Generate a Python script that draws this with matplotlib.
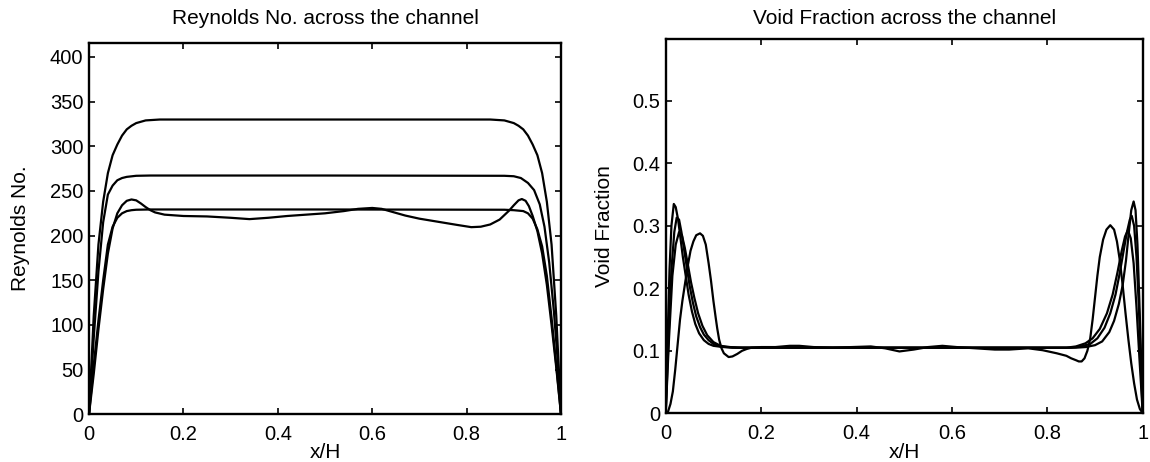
import matplotlib
matplotlib.use("Agg")
import matplotlib.pyplot as plt

plt.rcParams['font.family'] = ['Liberation Sans', 'DejaVu Sans']

# ---------------- Reynolds number data ----------------
re_x_a = [0, 0.005, 0.01, 0.02, 0.03, 0.04, 0.05, 0.06, 0.07, 0.08, 0.09, 0.10, 0.12, 0.15,
          0.30, 0.50, 0.70, 0.85, 0.88, 0.90, 0.91, 0.92, 0.93, 0.94, 0.95, 0.96, 0.97,
          0.98, 0.99, 0.995, 1.0]
re_y_a = [0, 55, 110, 190, 238, 270, 290, 302, 312, 319, 323, 326, 329, 330,
          330, 330, 330, 330, 329, 326, 323, 319, 312, 302, 290, 270, 238,
          190, 110, 55, 0]

re_x_b = [0, 0.01, 0.02, 0.03, 0.04, 0.05, 0.055, 0.06, 0.07, 0.08, 0.10, 0.13,
          0.50, 0.88, 0.90, 0.915, 0.93, 0.943, 0.955, 0.965, 0.975, 0.985, 0.993, 1.0]
re_y_b = [0, 85, 160, 215, 246, 256, 259, 262, 264.5, 265.8, 267, 267.3,
          267.3, 267, 266.5, 264.5, 259, 251, 235, 210, 170, 115, 60, 0]

re_x_c = [0, 0.01, 0.02, 0.03, 0.04, 0.05, 0.06, 0.07, 0.08, 0.09, 0.10, 0.13,
          0.50, 0.88, 0.90, 0.92, 0.93, 0.94, 0.95, 0.96, 0.97, 0.98, 0.99, 1.0]
re_y_c = [0, 55, 105, 150, 190, 210, 220, 225, 227.5, 228.5, 229, 229.3,
          229.3, 229, 228.5, 227.5, 225, 219, 207, 188, 155, 108, 55, 0]

re_x_d = [0, 0.01, 0.02, 0.03, 0.04, 0.05, 0.06, 0.07, 0.08, 0.09, 0.10, 0.11,
          0.12, 0.13, 0.14, 0.16, 0.20, 0.25, 0.30, 0.34, 0.38, 0.42, 0.46,
          0.50, 0.54, 0.57, 0.60, 0.62, 0.64, 0.67, 0.70, 0.74, 0.78, 0.81,
          0.83, 0.85, 0.87, 0.89, 0.90, 0.91, 0.917, 0.925, 0.932, 0.94, 0.95,
          0.96, 0.97, 0.98, 0.99, 1.0]
re_y_d = [0, 45, 95, 140, 180, 208, 225, 234, 239, 240.5, 239.5, 236,
          232, 228.5, 226, 223.5, 222, 221.5, 220, 218.5, 220, 222, 223.5,
          225, 227.5, 230, 231, 230, 227, 222.5, 219, 215.5, 212, 209.5,
          210, 212.5, 218, 228, 234, 239.5, 241, 239, 233, 222, 205,
          180, 145, 100, 52, 0]

# ---------------- Void fraction data ----------------
vf_x_1 = [0, 0.004, 0.008, 0.012, 0.017, 0.021, 0.026, 0.031, 0.036, 0.042, 0.048,
          0.055, 0.062, 0.07, 0.08, 0.09, 0.10, 0.12, 0.15, 0.50, 0.86, 0.88, 0.90,
          0.915, 0.93, 0.94, 0.95, 0.958, 0.965, 0.971, 0.976, 0.981, 0.985, 0.989,
          0.993, 0.997, 1.0]
vf_y_1 = [0, 0.12, 0.23, 0.30, 0.335, 0.33, 0.31, 0.28, 0.25, 0.22, 0.19,
          0.163, 0.143, 0.128, 0.117, 0.111, 0.108, 0.106, 0.105, 0.105, 0.105, 0.106, 0.109,
          0.115, 0.13, 0.148, 0.175, 0.205, 0.245, 0.29, 0.325, 0.339, 0.325, 0.27,
          0.18, 0.08, 0]

vf_x_2 = [0, 0.006, 0.012, 0.018, 0.023, 0.028, 0.033, 0.038, 0.044, 0.05, 0.057,
          0.064, 0.072, 0.08, 0.09, 0.10, 0.115, 0.14, 0.50, 0.85, 0.87, 0.89, 0.905,
          0.92, 0.932, 0.943, 0.952, 0.96, 0.967, 0.973, 0.977, 0.982, 0.987, 0.992,
          0.996, 1.0]
vf_y_2 = [0, 0.12, 0.23, 0.29, 0.313, 0.31, 0.29, 0.265, 0.235, 0.205, 0.177,
          0.155, 0.138, 0.126, 0.117, 0.111, 0.107, 0.105, 0.105, 0.105, 0.107, 0.111, 0.12,
          0.137, 0.16, 0.19, 0.225, 0.26, 0.29, 0.31, 0.316, 0.30, 0.25, 0.17,
          0.08, 0]

vf_x_3 = [0, 0.007, 0.014, 0.021, 0.028, 0.034, 0.04, 0.046, 0.053, 0.06, 0.068,
          0.077, 0.087, 0.10, 0.115, 0.135, 0.16, 0.50, 0.84, 0.86, 0.88, 0.895,
          0.91, 0.925, 0.937, 0.947, 0.956, 0.963, 0.969, 0.975, 0.981, 0.987,
          0.993, 1.0]
vf_y_3 = [0, 0.12, 0.22, 0.27, 0.29, 0.285, 0.265, 0.24, 0.21, 0.185, 0.16,
          0.14, 0.125, 0.114, 0.108, 0.106, 0.105, 0.105, 0.105, 0.107, 0.112, 0.12,
          0.135, 0.16, 0.19, 0.225, 0.26, 0.283, 0.293, 0.28, 0.24, 0.17,
          0.09, 0]

vf_x_4 = [0, 0.005, 0.01, 0.015, 0.02, 0.025, 0.03, 0.035, 0.04, 0.046, 0.052,
          0.058, 0.064, 0.072, 0.078, 0.084, 0.09, 0.095, 0.10, 0.105, 0.108,
          0.112, 0.117, 0.122, 0.132, 0.14, 0.15, 0.16, 0.17, 0.18, 0.20, 0.23,
          0.26, 0.28, 0.31, 0.35, 0.39, 0.43, 0.46, 0.49, 0.52, 0.55, 0.58,
          0.61, 0.65, 0.69, 0.72, 0.76, 0.79, 0.82, 0.84, 0.85, 0.86, 0.866,
          0.872, 0.878, 0.884, 0.89, 0.895, 0.90, 0.905, 0.91, 0.917, 0.924,
          0.932, 0.94, 0.946, 0.952, 0.958, 0.964, 0.97, 0.976, 0.982, 0.988,
          0.994, 1.0]
vf_y_4 = [0, 0.003, 0.015, 0.035, 0.07, 0.11, 0.15, 0.18, 0.205, 0.235, 0.26,
          0.275, 0.285, 0.288, 0.284, 0.27, 0.24, 0.212, 0.18, 0.152, 0.136,
          0.118, 0.104, 0.096, 0.09, 0.091, 0.095, 0.10, 0.103, 0.105, 0.106, 0.106,
          0.108, 0.108, 0.106, 0.105, 0.106, 0.107, 0.104, 0.099, 0.102, 0.106, 0.108,
          0.106, 0.104, 0.102, 0.102, 0.104, 0.101, 0.096, 0.092, 0.088, 0.085, 0.083,
          0.083, 0.088, 0.10, 0.12, 0.15, 0.185, 0.22, 0.25, 0.278, 0.294,
          0.301, 0.294, 0.275, 0.245, 0.205, 0.16, 0.118, 0.08, 0.048, 0.022,
          0.007, 0]

x_ticks = [0, 0.2, 0.4, 0.6, 0.8, 1.0]
x_tick_labels = ["0", "0.2", "0.4", "0.6", "0.8", "1"]
re_ticks = [0, 50, 100, 150, 200, 250, 300, 350, 400]
re_tick_labels = ["0", "50", "100", "150", "200", "250", "300", "350", "400"]
vf_ticks = [0, 0.1, 0.2, 0.3, 0.4, 0.5]
vf_tick_labels = ["0", "0.1", "0.2", "0.3", "0.4", "0.5"]

W, H = 1150, 462
fig = plt.figure(figsize=(W / 100, H / 100), dpi=100)
fig.patch.set_facecolor("white")

ax1 = fig.add_axes([89 / W, (H - 414.3) / H, 472 / W, (414.3 - 42.7) / H])
ax2 = fig.add_axes([665.7 / W, (H - 413.3) / H, 477 / W, (413.3 - 39) / H])

lw = 1.6
for xs, ys in [(re_x_a, re_y_a), (re_x_b, re_y_b), (re_x_c, re_y_c), (re_x_d, re_y_d)]:
    ax1.plot(xs, ys, color="black", lw=lw, solid_joinstyle="round")
for xs, ys in [(vf_x_1, vf_y_1), (vf_x_2, vf_y_2), (vf_x_3, vf_y_3), (vf_x_4, vf_y_4)]:
    ax2.plot(xs, ys, color="black", lw=lw, solid_joinstyle="round")

ax1.set_xlim(0, 1)
ax1.set_ylim(0, 416)
ax2.set_xlim(0, 1)
ax2.set_ylim(0, 0.599)

tfs = 14.5
lfs = 15
for ax, yt, ytl in [(ax1, re_ticks, re_tick_labels), (ax2, vf_ticks, vf_tick_labels)]:
    ax.set_xticks(x_ticks)
    ax.set_xticklabels(x_tick_labels)
    ax.set_yticks(yt)
    ax.set_yticklabels(ytl)
    ax.tick_params(direction="in", length=4, width=1.2, top=True, right=True,
                   labelsize=tfs, colors="black")
    ax.tick_params(axis="x", pad=7.5)
    ax.tick_params(axis="y", pad=4)
    for s in ax.spines.values():
        s.set_linewidth(1.7)

ax1.set_title("Reynolds No. across the channel", fontsize=lfs, y=1.066, va="center", pad=0)
ax2.set_title("Void Fraction across the channel", fontsize=lfs, y=1.056, va="center", pad=0)

ax1.set_xlabel("x/H", fontsize=lfs, va="baseline")
ax1.xaxis.set_label_coords(0.5, -0.1176)
ax1.set_ylabel("Reynolds No.", fontsize=lfs, va="center")
ax1.yaxis.set_label_coords(-0.146, 0.5)

ax2.set_xlabel("x/H", fontsize=lfs, va="baseline")
ax2.xaxis.set_label_coords(0.5, -0.1194)
ax2.set_ylabel("Void Fraction", fontsize=lfs, va="center")
ax2.yaxis.set_label_coords(-0.129, 0.5)

fig.savefig("out.png", dpi=100)
